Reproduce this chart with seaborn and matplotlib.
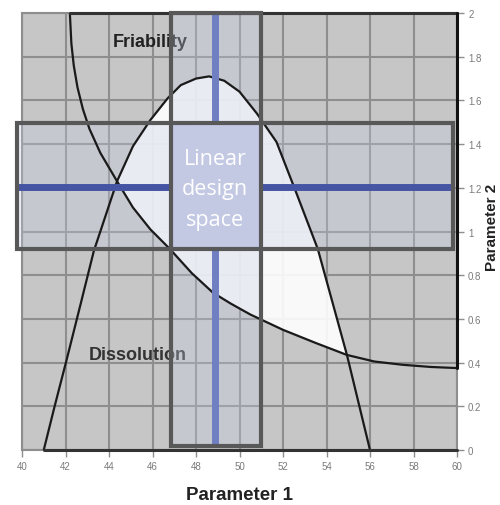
import numpy as np
import pandas as pd
import matplotlib
matplotlib.use("Agg")
import matplotlib.pyplot as plt
import seaborn as sns
from matplotlib.patches import Rectangle, Polygon

# ---- data ----
fri_x = [42.2, 42.27, 42.38, 42.55, 42.8, 43.1, 43.6, 44.37, 45.1, 45.9, 46.8, 47.8, 48.78, 49.6, 50.5, 52.0, 53.5, 54.94, 56.2, 57.5, 58.8, 60.0]
fri_y = [2.0, 1.86, 1.76, 1.66, 1.56, 1.47, 1.36, 1.23, 1.11, 1.01, 0.92, 0.81, 0.72, 0.67, 0.62, 0.55, 0.49, 0.435, 0.405, 0.39, 0.38, 0.375]

dis_x = [41.0, 41.5, 42.07, 42.7, 43.3, 44.37, 45.1, 45.9, 46.7, 47.3, 48.0, 48.6, 49.3, 50.0, 50.8, 51.7, 52.6, 53.6, 54.94, 56.0]
dis_y = [0.0, 0.2, 0.42, 0.67, 0.91, 1.23, 1.39, 1.51, 1.61, 1.67, 1.70, 1.71, 1.69, 1.64, 1.54, 1.41, 1.18, 0.92, 0.435, 0.0]

x_ticks = [40, 42, 44, 46, 48, 50, 52, 54, 56, 58, 60]
y_ticks = [0, 0.2, 0.4, 0.6, 0.8, 1, 1.2, 1.4, 1.6, 1.8, 2]
y_tick_labels = ["0", "0.2", "0.4", "0.6", "0.8", "1", "1.2", "1.4", "1.6", "1.8", "2"]

band_x = [46.85, 50.99]      # vertical band (Parameter 1 range)
band_y = [0.92, 1.497]       # horizontal band (Parameter 2 range)
center_x = 48.87
center_y = 1.205

sns.set_theme(style="white")
plt.rcParams['font.family'] = ['Liberation Sans', 'DejaVu Sans']

fig = plt.figure(figsize=(5.0, 5.06), dpi=100)
ax = fig.add_axes([0.044, 0.1087, 0.87, 0.8636])
ax.set_xlim(40, 60)
ax.set_ylim(0, 2)

ax.set_facecolor("#c6c6c6")
ax.set_xticks(x_ticks)
ax.set_yticks(y_ticks)
ax.grid(True, color="#8e8e8e", linewidth=1.5, zorder=0.5)
ax.set_axisbelow(True)

# design space (white region between the curves)
i1 = dis_x.index(44.37); i2 = dis_x.index(54.94)
j1 = fri_x.index(44.37); j2 = fri_x.index(54.94)
poly = list(zip(dis_x[i1:i2 + 1], dis_y[i1:i2 + 1])) + list(zip(fri_x[j1:j2 + 1], fri_y[j1:j2 + 1]))[::-1]
ax.add_patch(Polygon(poly, closed=True, facecolor="white", alpha=0.9, edgecolor="none", zorder=1))

ax.text(45.9, 1.87, "Friability", ha="center", va="center", fontsize=13, fontweight="bold", color="#222222", zorder=2)
ax.text(45.3, 0.435, "Dissolution", ha="center", va="center", fontsize=13, fontweight="bold", color="#333333", zorder=2)

# bands
band_fc = (200/255, 206/255, 232/255, 0.31)
hx0, hx1 = 39.77, 59.8
ax.add_patch(Rectangle((band_x[0], 0.018), band_x[1] - band_x[0], 2.0 - 0.018,
                       facecolor=band_fc, edgecolor="none", zorder=3, clip_on=False))
ax.add_patch(Rectangle((hx0, band_y[0]), hx1 - hx0, band_y[1] - band_y[0],
                       facecolor=band_fc, edgecolor="none", zorder=3, clip_on=False))

df_f = pd.DataFrame({"x": fri_x, "y": fri_y})
df_d = pd.DataFrame({"x": dis_x, "y": dis_y})
sns.lineplot(data=df_f, x="x", y="y", ax=ax, color="#1a1a1a", linewidth=1.6, sort=False, zorder=3.5)
sns.lineplot(data=df_d, x="x", y="y", ax=ax, color="#1a1a1a", linewidth=1.6, sort=False, zorder=3.5)
# region outlines along frame
ax.plot([fri_x[0], 60], [2, 2], color="#333333", lw=2.2, zorder=3.5, clip_on=False)
ax.plot([60, 60], [2, fri_y[-1]], color="#111111", lw=2.2, zorder=3.5, clip_on=False)
ax.plot([dis_x[0], 60], [0, 0], color="#333333", lw=2.2, zorder=3.5, clip_on=False)

# blue lines
ax.plot([center_x, center_x], [0.018, 2.0], color="#6f7fc2", lw=5, solid_capstyle="butt", zorder=4, clip_on=False)
ax.plot([hx0, hx1], [center_y, center_y], color="#4655a3", lw=5, solid_capstyle="butt", zorder=4, clip_on=False)
# center box
ax.add_patch(Rectangle((band_x[0], band_y[0]), band_x[1] - band_x[0], band_y[1] - band_y[0],
                       facecolor="#c3c8e3", edgecolor="none", zorder=5))
# borders
ax.add_patch(Rectangle((band_x[0], 0.018), band_x[1] - band_x[0], 2.0 - 0.018,
                       facecolor="none", edgecolor="#585858", lw=3, zorder=6, clip_on=False))
ax.add_patch(Rectangle((hx0, band_y[0]), hx1 - hx0, band_y[1] - band_y[0],
                       facecolor="none", edgecolor="#585858", lw=3, zorder=6, clip_on=False))
ax.text(center_x, center_y - 0.01, "Linear\ndesign\nspace", ha="center", va="center", fontsize=15.5,
        color="white", family=["Open Sans", "DejaVu Sans"], linespacing=1.6, zorder=7)

# axes styling
for s in ["left", "top", "bottom", "right"]:
    ax.spines[s].set_color("#8e8e8e")
    ax.spines[s].set_linewidth(1.5)
ax.yaxis.tick_right()
ax.set_yticklabels(y_tick_labels)
ax.set_xticklabels([str(v) for v in x_ticks])
ax.tick_params(axis="both", which="both", length=5, width=1, color="#8e8e8e",
               labelsize=7, labelcolor="#7a7a7a", pad=3)
ax.tick_params(axis="y", right=True, left=False)
ax.tick_params(axis="x", bottom=True)
ax.set_xlabel("Parameter 1", fontsize=13.5, fontweight="bold", color="#222222", labelpad=11)
ax.set_ylabel("")
fig.text(0.985, 0.55, "Parameter 2", rotation=90, ha="center", va="center",
         fontsize=11, fontweight="bold", color="#222222")

fig.savefig("out.png", dpi=100, facecolor="white")
